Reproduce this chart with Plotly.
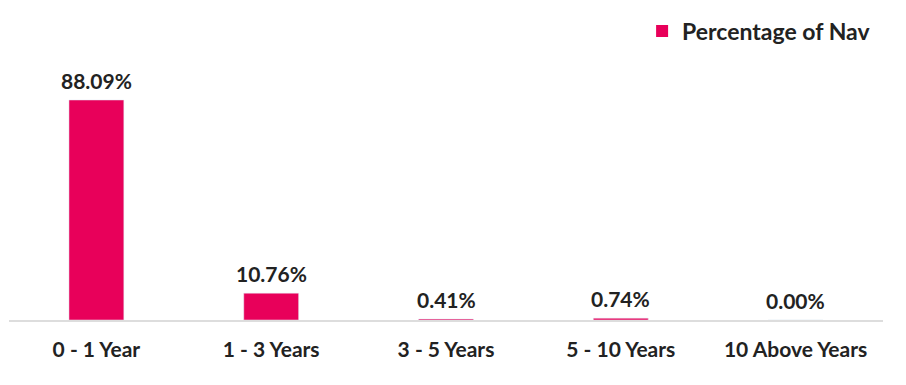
import plotly.graph_objects as go

categories = ["0 - 1 Year", "1 - 3 Years", "3 - 5 Years", "5 - 10 Years", "10 Above Years"]
values = [88.09, 10.76, 0.41, 0.74, 0.00]
labels = ["88.09%", "10.76%", "0.41%", "0.74%", "0.00%"]
series_name = "Percentage of Nav"

COLOR = "#E8005A"
TXT = "#222222"

fig = go.Figure()
fig.add_trace(go.Bar(x=categories, y=values, marker_color=COLOR, showlegend=False,
                     hoverinfo="x+y"))
fig.add_trace(go.Scatter(x=[None], y=[None], mode="markers", name=series_name,
                         marker=dict(symbol="square", size=13, color=COLOR)))

for c, v, t in zip(categories, values, labels):
    fig.add_annotation(x=c, y=v, text=t, showarrow=False, yanchor="bottom", yshift=5,
                       font=dict(family="Lato", size=21, color=TXT, weight="bold"))

fig.update_layout(
    width=906, height=385,
    margin=dict(l=9, r=23, t=60, b=65, autoexpand=False),
    paper_bgcolor="white", plot_bgcolor="white",
    bargap=0.686,
    font=dict(family="Lato", color=TXT),
    legend=dict(xref="container", yref="container", x=0.967, xanchor="right",
                y=1 - 31 / 385, yanchor="middle", orientation="h",
                font=dict(family="Lato", size=23, color=TXT, weight="bold"),
                itemsizing="constant", bgcolor="rgba(0,0,0,0)"),
    xaxis=dict(showline=True, linecolor="#DDDDDD", linewidth=2, showgrid=False,
               ticks="", ticklabelstandoff=10,
               tickfont=dict(family="Lato", size=21, color=TXT, weight="bold")),
    yaxis=dict(range=[0, 104.1], visible=False, showgrid=False, zeroline=False),
)

fig.write_html("out.html")
